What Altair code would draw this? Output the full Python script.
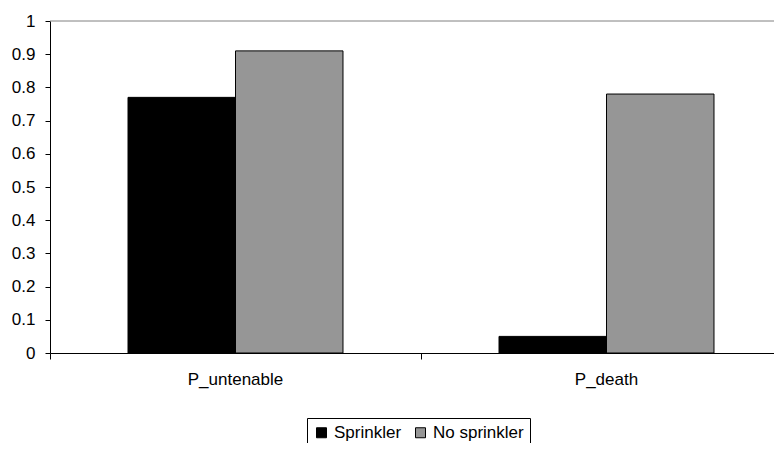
import altair as alt
import pandas as pd

categories = ["P_untenable", "P_death"]
series = ["Sprinkler", "No sprinkler"]
sprinkler = [0.77, 0.05]
no_sprinkler = [0.91, 0.78]
y_ticks = [0, 0.1, 0.2, 0.3, 0.4, 0.5, 0.6, 0.7, 0.8, 0.9, 1.0]
colors = ["#000000", "#969696"]

rows = []
for i, c in enumerate(categories):
    rows.append({"category": c, "series": series[0], "value": sprinkler[i]})
    rows.append({"category": c, "series": series[1], "value": no_sprinkler[i]})
df = pd.DataFrame(rows)

FONT = "Liberation Sans"

y_axis = alt.Axis(values=y_ticks, format=".1~f", grid=False, tickSize=5,
                  labelPadding=10, domainColor="black", tickColor="black",
                  labelFontSize=17, labelFont=FONT, labelColor="black",
                  labelOverlap=False, tickCount=11)
y_scale = alt.Scale(domain=[0, 1])

bars = alt.Chart(df).mark_bar(stroke="black", strokeWidth=1).encode(
    x=alt.X(
        "category:N", sort=categories, title=None,
        scale=alt.Scale(paddingInner=0, paddingOuter=0, range=[0, 742]),
        axis=alt.Axis(bandPosition=0, labelAngle=0, tickSize=6,
                      labelPadding=12, domainColor="black", tickColor="black",
                      labelFontSize=17, labelFont=FONT, labelColor="black",
                      labelBaseline="top", labelOverlap=False),
    ),
    xOffset=alt.XOffset("series:N", sort=series,
                        scale=alt.Scale(paddingInner=0, paddingOuter=0.7256)),
    y=alt.Y("value:Q", scale=y_scale, title=None, axis=y_axis),
    color=alt.Color(
        "series:N", sort=series,
        scale=alt.Scale(domain=series, range=colors),
        legend=alt.Legend(title=None, orient="none", legendX=257, legendY=397,
                          direction="horizontal", strokeColor="black", padding=6,
                          symbolType="square", symbolSize=100,
                          symbolStrokeColor="black", symbolStrokeWidth=1,
                          symbolOpacity=1, labelFontSize=17, labelFont=FONT,
                          labelColor="black", labelOffset=4, columnPadding=10),
    ),
)

top_line = alt.Chart(pd.DataFrame({"v": [y_ticks[-1]]})).mark_rule(
    color="#808080", strokeWidth=1
).encode(y=alt.Y("v:Q", scale=y_scale, title=None, axis=y_axis))

chart = alt.layer(bars, top_line).properties(
    width=724, height=332,
    autosize=alt.AutoSizeParams(type="none"),
    padding={"left": 42, "top": 13, "right": 0, "bottom": 90},
    background="white",
).configure_view(stroke=None)

chart.save("out.html", embed_options={"renderer": "svg", "actions": False})
